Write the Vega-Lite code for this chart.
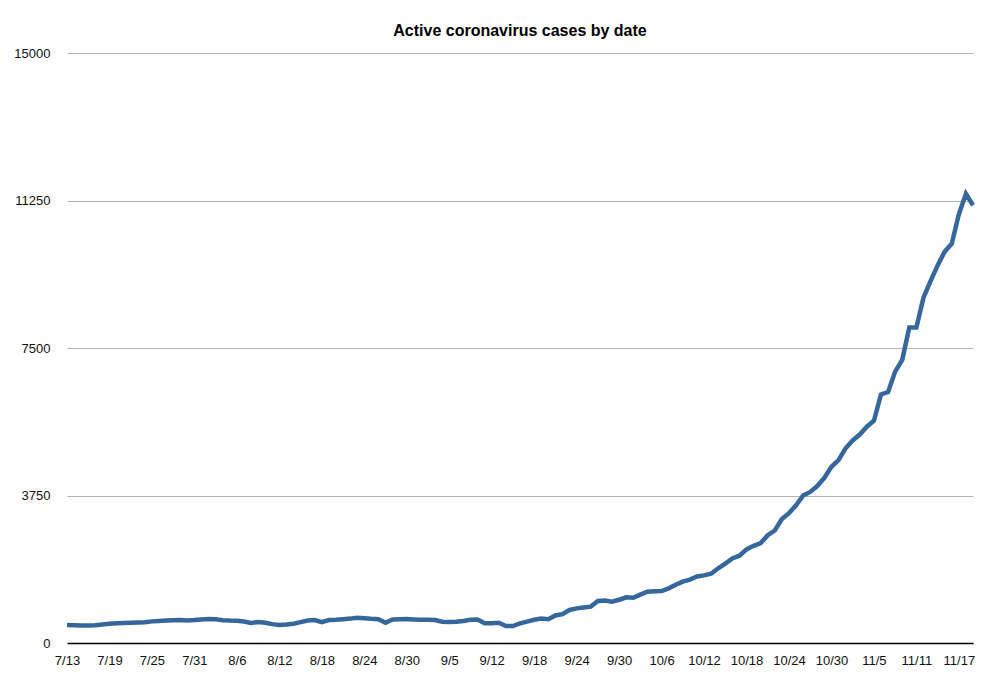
{
  "$schema": "https://vega.github.io/schema/vega-lite/v6.json",
  "autosize": "none",
  "width": 906,
  "height": 590,
  "padding": {"left": 67, "top": 53, "right": 27, "bottom": 37},
  "background": "white",
  "config": {
    "font": "Liberation Sans",
    "view": {"stroke": null}
  },
  "title": {
    "text": "Active coronavirus cases by date",
    "fontSize": 16,
    "fontWeight": "bold",
    "color": "#000000",
    "anchor": "middle",
    "offset": 8
  },
  "data": {
    "values": [
      {"date": "7/13", "cases": 455}, {"date": "7/14", "cases": 450}, {"date": "7/15", "cases": 445},
      {"date": "7/16", "cases": 445}, {"date": "7/17", "cases": 450}, {"date": "7/18", "cases": 470},
      {"date": "7/19", "cases": 490}, {"date": "7/20", "cases": 505}, {"date": "7/21", "cases": 510},
      {"date": "7/22", "cases": 515}, {"date": "7/23", "cases": 520}, {"date": "7/24", "cases": 525},
      {"date": "7/25", "cases": 550}, {"date": "7/26", "cases": 560}, {"date": "7/27", "cases": 570},
      {"date": "7/28", "cases": 580}, {"date": "7/29", "cases": 585}, {"date": "7/30", "cases": 575},
      {"date": "7/31", "cases": 585}, {"date": "8/1", "cases": 600}, {"date": "8/2", "cases": 610},
      {"date": "8/3", "cases": 605}, {"date": "8/4", "cases": 580}, {"date": "8/5", "cases": 570},
      {"date": "8/6", "cases": 565}, {"date": "8/7", "cases": 545}, {"date": "8/8", "cases": 510},
      {"date": "8/9", "cases": 535}, {"date": "8/10", "cases": 515}, {"date": "8/11", "cases": 480},
      {"date": "8/12", "cases": 460}, {"date": "8/13", "cases": 470}, {"date": "8/14", "cases": 490},
      {"date": "8/15", "cases": 530}, {"date": "8/16", "cases": 570}, {"date": "8/17", "cases": 585},
      {"date": "8/18", "cases": 530}, {"date": "8/19", "cases": 585}, {"date": "8/20", "cases": 590},
      {"date": "8/21", "cases": 605}, {"date": "8/22", "cases": 620}, {"date": "8/23", "cases": 640},
      {"date": "8/24", "cases": 630}, {"date": "8/25", "cases": 615}, {"date": "8/26", "cases": 605},
      {"date": "8/27", "cases": 515}, {"date": "8/28", "cases": 600}, {"date": "8/29", "cases": 605},
      {"date": "8/30", "cases": 612}, {"date": "8/31", "cases": 600}, {"date": "9/1", "cases": 590},
      {"date": "9/2", "cases": 590}, {"date": "9/3", "cases": 585}, {"date": "9/4", "cases": 540},
      {"date": "9/5", "cases": 535}, {"date": "9/6", "cases": 540}, {"date": "9/8", "cases": 560},
      {"date": "9/9", "cases": 590}, {"date": "9/10", "cases": 595}, {"date": "9/11", "cases": 500},
      {"date": "9/12", "cases": 505}, {"date": "9/13", "cases": 515}, {"date": "9/14", "cases": 430},
      {"date": "9/15", "cases": 430}, {"date": "9/16", "cases": 500}, {"date": "9/17", "cases": 545},
      {"date": "9/18", "cases": 590}, {"date": "9/19", "cases": 625}, {"date": "9/20", "cases": 605},
      {"date": "9/21", "cases": 700}, {"date": "9/22", "cases": 735}, {"date": "9/23", "cases": 840},
      {"date": "9/24", "cases": 880}, {"date": "9/25", "cases": 905}, {"date": "9/26", "cases": 925},
      {"date": "9/27", "cases": 1070}, {"date": "9/28", "cases": 1080}, {"date": "9/29", "cases": 1050},
      {"date": "9/30", "cases": 1100}, {"date": "10/1", "cases": 1160}, {"date": "10/2", "cases": 1150},
      {"date": "10/3", "cases": 1230}, {"date": "10/4", "cases": 1305}, {"date": "10/5", "cases": 1315},
      {"date": "10/6", "cases": 1322}, {"date": "10/7", "cases": 1390}, {"date": "10/8", "cases": 1480},
      {"date": "10/9", "cases": 1560}, {"date": "10/10", "cases": 1610}, {"date": "10/11", "cases": 1690},
      {"date": "10/12", "cases": 1720}, {"date": "10/13", "cases": 1760}, {"date": "10/14", "cases": 1900},
      {"date": "10/15", "cases": 2020}, {"date": "10/16", "cases": 2150}, {"date": "10/17", "cases": 2220},
      {"date": "10/18", "cases": 2380}, {"date": "10/19", "cases": 2470}, {"date": "10/20", "cases": 2540},
      {"date": "10/21", "cases": 2740}, {"date": "10/22", "cases": 2860}, {"date": "10/23", "cases": 3150},
      {"date": "10/24", "cases": 3300}, {"date": "10/25", "cases": 3500}, {"date": "10/26", "cases": 3750},
      {"date": "10/27", "cases": 3840}, {"date": "10/28", "cases": 3990}, {"date": "10/29", "cases": 4200},
      {"date": "10/30", "cases": 4480}, {"date": "10/31", "cases": 4650}, {"date": "11/1", "cases": 4950},
      {"date": "11/2", "cases": 5150}, {"date": "11/3", "cases": 5300}, {"date": "11/4", "cases": 5500},
      {"date": "11/5", "cases": 5650}, {"date": "11/6", "cases": 6320}, {"date": "11/7", "cases": 6380},
      {"date": "11/8", "cases": 6900}, {"date": "11/9", "cases": 7200}, {"date": "11/10", "cases": 8020},
      {"date": "11/11", "cases": 8020}, {"date": "11/12", "cases": 8780}, {"date": "11/13", "cases": 9200},
      {"date": "11/14", "cases": 9600}, {"date": "11/15", "cases": 9950}, {"date": "11/16", "cases": 10150},
      {"date": "11/17", "cases": 10900}, {"date": "11/18", "cases": 11420}, {"date": "11/19", "cases": 11130}
    ]
  },
  "mark": {"type": "line", "color": "#36679c", "strokeWidth": 4.5, "strokeJoin": "miter", "strokeCap": "butt"},
  "encoding": {
    "x": {
      "field": "date",
      "type": "ordinal",
      "sort": null,
      "scale": {"type": "point", "padding": 0},
      "axis": {
        "title": null,
        "values": ["7/13", "7/19", "7/25", "7/31", "8/6", "8/12", "8/18", "8/24", "8/30", "9/5", "9/12", "9/18", "9/24", "9/30", "10/6", "10/12", "10/18", "10/24", "10/30", "11/5", "11/11", "11/17"],
        "labelAngle": 0,
        "labelFontSize": 13,
        "labelColor": "#111111",
        "labelPadding": 11,
        "ticks": false,
        "domainColor": "#000000",
        "domainWidth": 1.5,
        "grid": false
      }
    },
    "y": {
      "field": "cases",
      "type": "quantitative",
      "scale": {"domain": [0, 15000], "nice": false, "zero": true},
      "axis": {
        "title": null,
        "values": [0, 3750, 7500, 11250, 15000],
        "labelFontSize": 13,
        "labelColor": "#111111",
        "labelPadding": 17,
        "ticks": false,
        "domain": false,
        "grid": true,
        "gridColor": "#b4b4b4",
        "gridWidth": 1,
        "format": "d"
      }
    }
  }
}
